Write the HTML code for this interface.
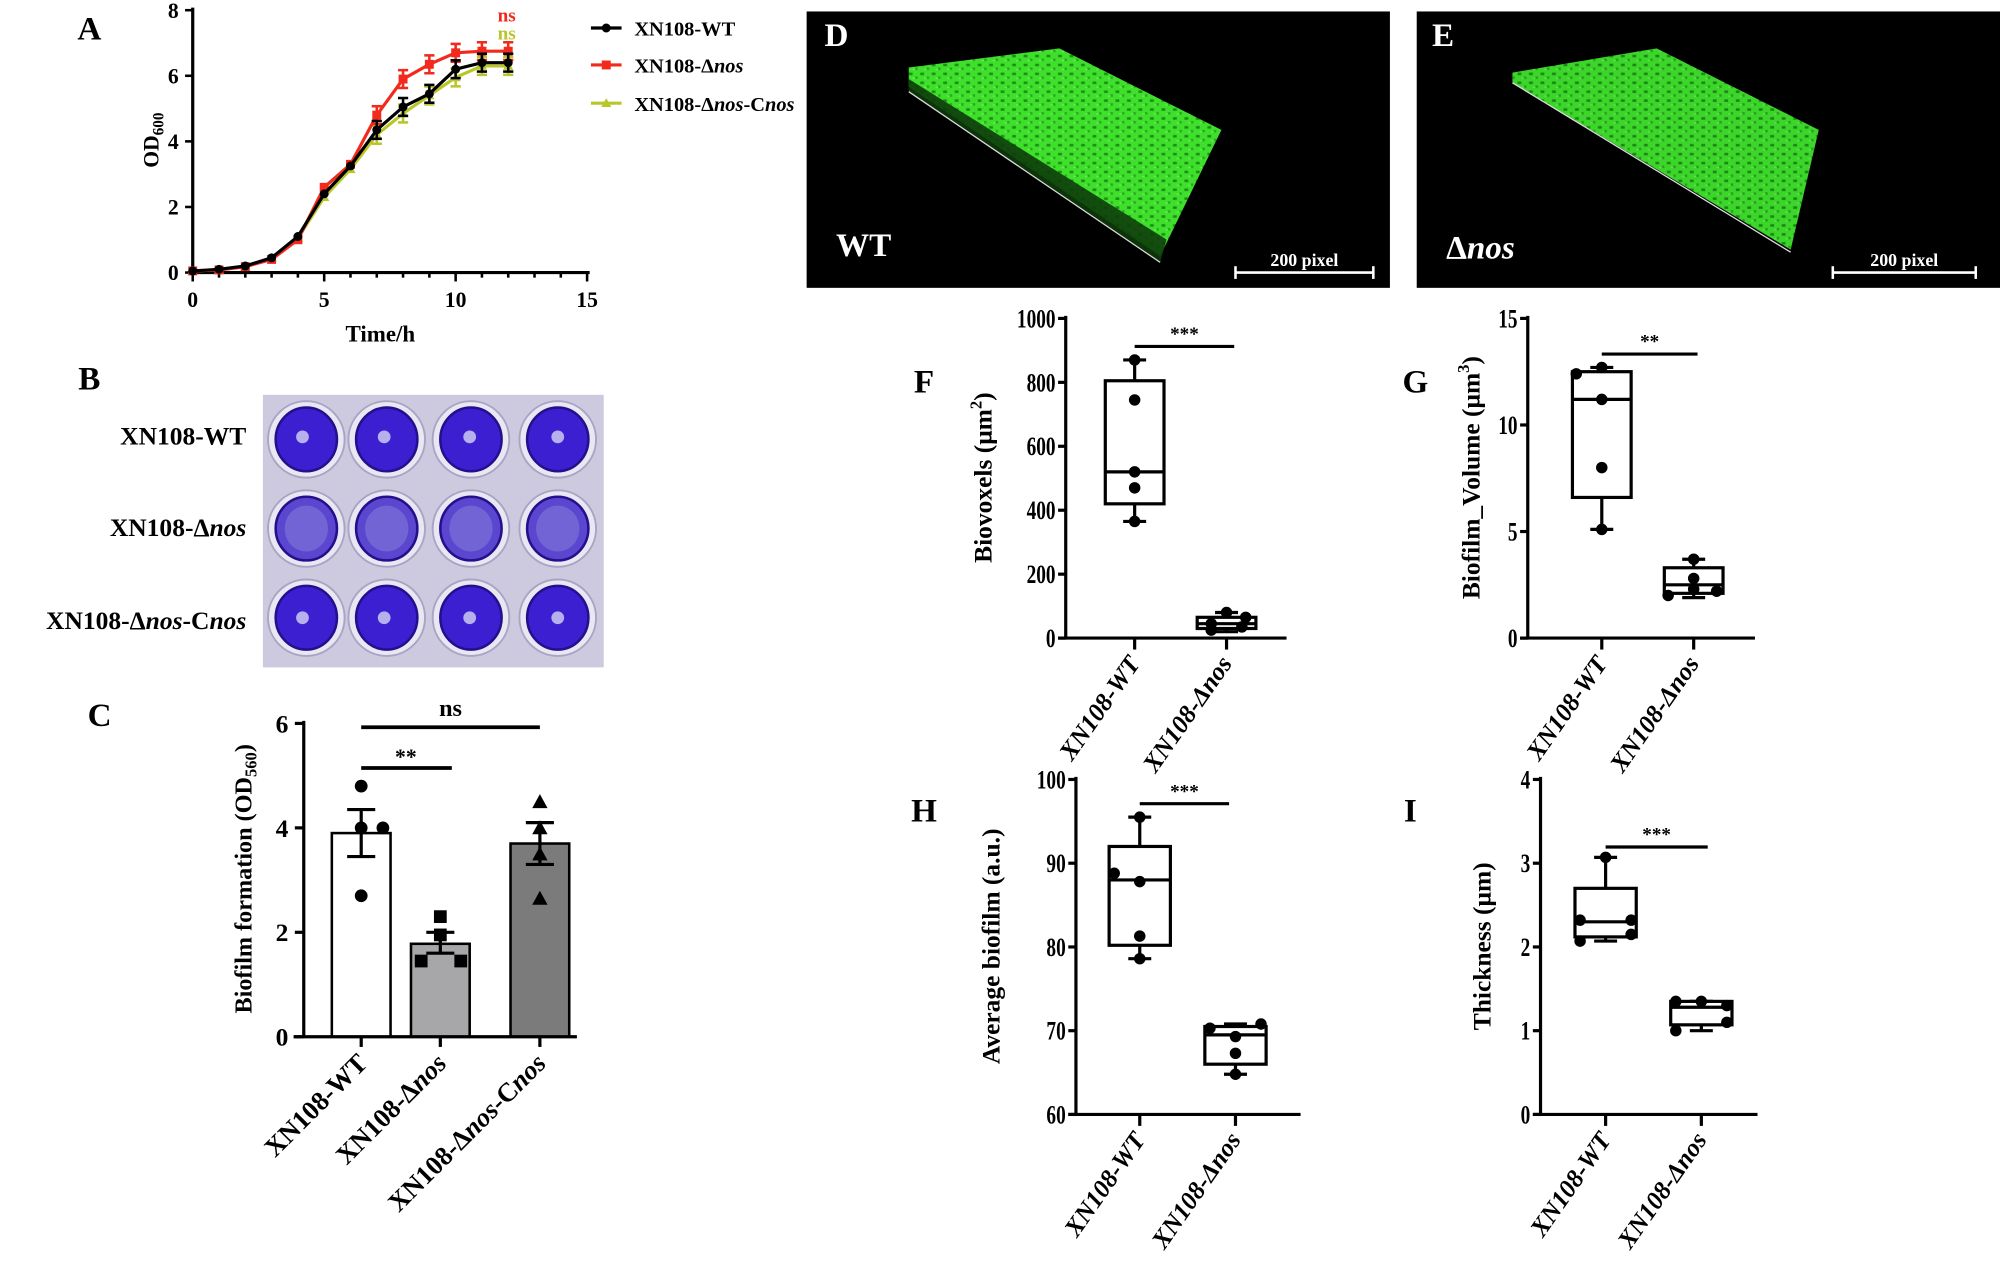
<!DOCTYPE html>
<html><head><meta charset="utf-8"><style>
html,body{margin:0;padding:0;background:#fff;}
svg{display:block;}
text{font-family:"Liberation Serif",serif;font-weight:bold;}
</style></head><body>
<svg id="s" width="2000" height="1266" viewBox="0 0 1567 994" preserveAspectRatio="none" xmlns="http://www.w3.org/2000/svg">
<defs>
<pattern id="gp" width="9" height="7" patternUnits="userSpaceOnUse">
<rect width="9" height="7" fill="#3fe02c"/>
<rect x="1" y="1" width="3" height="2" fill="#1f8c18"/>
<rect x="6" y="4" width="2" height="2" fill="#2aa81f"/>
<rect x="4" y="5" width="2" height="1" fill="#67f050"/>
</pattern>
<linearGradient id="sd" x1="0" y1="0" x2="1" y2="-1">
<stop offset="0" stop-color="#0d3a0a"/><stop offset="1" stop-color="#2a9a1e"/>
</linearGradient>
</defs>
<g id="root"></g>
</svg>
<script>
const R=document.getElementById('root');
let h='';
function t(x,y,s,size,opt){opt=opt||{};h+=`<text x="${x}" y="${y}" font-size="${size}" ${opt.a?`text-anchor="${opt.a}"`:''} ${opt.tr?`transform="${opt.tr}"`:''} fill="${opt.f||'#000'}" ${opt.it?'font-style="italic"':''}>${s}</text>`;}
function l(x1,y1,x2,y2,w,c){h+=`<line x1="${x1}" y1="${y1}" x2="${x2}" y2="${y2}" stroke="${c||'#000'}" stroke-width="${w||2}"/>`;}
// ---------- Panel A ----------
t(70,31,'A',26,{a:'middle'});
const AX=t0=>151+t0*20.6, AY=v=>214-v*25.75;
l(151,6,151,216,2.5);l(149,214,462,214,2.5);
[0,2,4,6,8].forEach(v=>{l(145,AY(v),151,AY(v),2);t(140,AY(v)+6,v,17,{a:'end'});});
for(let i=0;i<=15;i++){l(AX(i),214,AX(i),i%5?218:221,2);}
[0,5,10,15].forEach(v=>t(AX(v),241,v,17,{a:'middle'}));
t(298,268,'Time/h',18,{a:'middle'});
t(124,110,'OD<tspan font-size="12" dy="4">600</tspan>',17,{a:'middle',tr:'rotate(-90 124 110)'});
const wt=[0.05,0.1,0.2,0.45,1.1,2.4,3.25,4.35,5.05,5.45,6.2,6.4,6.4];
const ns=[0.05,0.08,0.18,0.4,1.0,2.6,3.3,4.8,5.9,6.35,6.7,6.75,6.75];
const cn=[0.05,0.08,0.18,0.45,1.05,2.3,3.15,4.2,4.85,5.4,5.95,6.3,6.3];
function series(d,c,mk){let p=d.map((v,i)=>AX(i)+','+AY(v)).join(' ');h+=`<polyline points="${p}" fill="none" stroke="${c}" stroke-width="2.5"/>`;
d.forEach((v,i)=>{const x=AX(i),y=AY(v);if(i>=7){l(x,y-7,x,y+7,2,c);l(x-4,y-7,x+4,y-7,2,c);l(x-4,y+7,x+4,y+7,2,c);}
if(mk==0)h+=`<circle cx="${x}" cy="${y}" r="3.5" fill="${c}"/>`;else if(mk==1)h+=`<rect x="${x-3.5}" y="${y-3.5}" width="7" height="7" fill="${c}"/>`;else h+=`<polygon points="${x},${y-4} ${x-4},${y+3} ${x+4},${y+3}" fill="${c}"/>`;});}
series(cn,'#b9c62a',2);series(ns,'#f22a1e',1);series(wt,'#000',0);
t(397,17,'ns',15,{a:'middle',f:'#f22a1e'});t(397,31,'ns',15,{a:'middle',f:'#b9c62a'});
const lg=[['XN108-WT','#000',0],['XN108-Δ<tspan font-style="italic">nos</tspan>','#f22a1e',1],['XN108-Δ<tspan font-style="italic">nos</tspan>-C<tspan font-style="italic">nos</tspan>','#b9c62a',2]];
lg.forEach((g,i)=>{const y=[22,51,81][i];l(463,y,487,y,2.5,g[1]);const x=475;
if(g[2]==0)h+=`<circle cx="${x}" cy="${y}" r="3.5" fill="${g[1]}"/>`;else if(g[2]==1)h+=`<rect x="${x-3.5}" y="${y-3.5}" width="7" height="7" fill="${g[1]}"/>`;else h+=`<polygon points="${x},${y-4} ${x-4},${y+3} ${x+4},${y+3}" fill="${g[1]}"/>`;
t(497,y+6,g[0],16);});
// ---------- Panel B ----------
t(70,306,'B',26,{a:'middle'});
t(193,349,'XN108-WT',20,{a:'end'});
t(193,421,'XN108-Δ<tspan font-style="italic">nos</tspan>',20,{a:'end'});
t(193,494,'XN108-Δ<tspan font-style="italic">nos</tspan>-C<tspan font-style="italic">nos</tspan>',20,{a:'end'});
h+=`<rect x="206" y="310" width="267" height="214" fill="#cdc9df"/>`;
[240,303,369,437].forEach((cx,ci)=>[345,415,485].forEach((cy,ri)=>{
h+=`<ellipse cx="${cx}" cy="${cy}" rx="30" ry="30" fill="#e9e7f2" stroke="#aaa4c4" stroke-width="1.5"/>`;
const f=ri==1?'#5a46cf':'#3d1fd2';
h+=`<ellipse cx="${cx}" cy="${cy}" rx="24" ry="25" fill="${f}" stroke="#24108c" stroke-width="2"/>`;
if(ri==1)h+=`<ellipse cx="${cx}" cy="${cy}" rx="17" ry="18" fill="#7d70d8" opacity="0.7"/>`;
else h+=`<ellipse cx="${cx-3+ci}" cy="${cy+(ri==0?-2:0)}" rx="5" ry="5" fill="#b7b0ee"/>`;
}));
// ---------- Panel C ----------
t(78,570,'C',26,{a:'middle'});
const CY=v=>814-v*41;
h+=`<rect x="260" y="${CY(3.9)}" width="46" height="${814-CY(3.9)}" fill="#fff" stroke="#000" stroke-width="2"/>`;
h+=`<rect x="322" y="${CY(1.78)}" width="46" height="${814-CY(1.78)}" fill="#a7a7a9" stroke="#000" stroke-width="2"/>`;
h+=`<rect x="400" y="${CY(3.7)}" width="46" height="${814-CY(3.7)}" fill="#7b7b7b" stroke="#000" stroke-width="2"/>`;
l(238,566,238,815,2.5);l(230,814,452,814,2.5);
[0,2,4,6].forEach(v=>{l(231,CY(v),238,CY(v),2.5);t(226,CY(v)+7,v,20,{a:'end'});});
[283,345,423].forEach(x=>l(x,814,x,822,2.5));
function eb(x,a,b){l(x,CY(a),x,CY(b),2.5);l(x-11,CY(a),x+11,CY(a),2.5);l(x-11,CY(b),x+11,CY(b),2.5);}
eb(283,3.45,4.35);eb(345,1.6,2.0);eb(423,3.3,4.1);
[[283,4.8],[283,4.0],[300,4.0],[283,2.7]].forEach(p=>h+=`<circle cx="${p[0]}" cy="${CY(p[1])}" r="5" fill="#000"/>`);
[[345,2.3],[345,1.95],[330,1.45],[361,1.45]].forEach(p=>h+=`<rect x="${p[0]-5}" y="${CY(p[1])-5}" width="10" height="10" fill="#000"/>`);
[[423,4.5],[423,4.0],[423,3.5],[423,2.65]].forEach(p=>{const y=CY(p[1]);h+=`<polygon points="${p[0]},${y-6} ${p[0]-6},${y+5} ${p[0]+6},${y+5}" fill="#000"/>`;});
l(283,571,423,571,3);t(353,562,'ns',19,{a:'middle'});
l(283,603,354,603,3);t(318,600,'**',17,{a:'middle'});
t(197,690,'Biofilm formation  (OD<tspan font-size="13" dy="4">560</tspan><tspan dy="-4">)</tspan>',19,{a:'middle',tr:'rotate(-90 197 690)'});
[[283,'XN108-WT'],[345,'XN108-Δ<tspan font-style="italic">nos</tspan>'],[423,'XN108-Δ<tspan font-style="italic">nos</tspan>-C<tspan font-style="italic">nos</tspan>']].forEach(p=>{t(p[0]+6,836,p[1],21,{a:'end',tr:`rotate(-45 ${p[0]+6} 836)`});});
// ---------- Panels D, E ----------
h+=`<rect x="632" y="9" width="457" height="217" fill="#000"/>`;
h+=`<rect x="1110" y="9" width="457" height="217" fill="#000"/>`;
h+=`<polygon points="712,53 830,38 957,102 909,201 712,68" fill="url(#gp)"/>`;
h+=`<polygon points="712,62 712,72 909,206 914,188 " fill="url(#sd)" opacity="0.9"/>`;
l(712,72,909,206,1,'#ddd');
h+=`<polygon points="1185,57 1298,38 1425,102 1403,196 1185,65" fill="url(#gp)" opacity="0.95"/>`;
l(1185,65,1403,198,1,'#ddd');
t(646,36,'D',26,{f:'#fff'});t(1122,36,'E',26,{f:'#fff'});
t(655,201,'WT',26,{f:'#fff'});t(1133,203,'Δ<tspan font-style="italic">nos</tspan>',26,{f:'#fff'});
t(1022,209,'200 pixel',14,{a:'middle',f:'#fff'});l(968,214,1076,214,2,'#fff');l(968,209,968,219,2,'#fff');l(1076,209,1076,219,2,'#fff');
t(1492,209,'200 pixel',14,{a:'middle',f:'#fff'});l(1436,214,1548,214,2,'#fff');l(1436,209,1436,219,2,'#fff');l(1548,209,1548,219,2,'#fff');
// ---------- Box panels ----------
function panel(o){
const Y=v=>o.y0-(v-o.min)/(o.max-o.min)*(o.y0-o.y1);
l(o.ax,o.y1-2,o.ax,o.y0+1,2.5);l(o.ax-6,o.y0,o.xend,o.y0,2.5);
o.ticks.forEach(v=>{l(o.ax-6,Y(v),o.ax,Y(v),2.5);t(o.ax-8,Y(v)+7,v,21,{a:'end',tr:`translate(${o.ax-8} ${Y(v)}) scale(0.72 1) translate(${-(o.ax-8)} ${-Y(v)})`});});
o.boxes.forEach(b=>{l(b.x,o.y0,b.x,o.y0+9,2.5);
const x0=b.x-b.w/2;l(b.x,Y(b.wl),b.x,Y(b.q1),2.5);l(b.x,Y(b.q3),b.x,Y(b.wh),2.5);
l(b.x-9,Y(b.wl),b.x+9,Y(b.wl),2.5);l(b.x-9,Y(b.wh),b.x+9,Y(b.wh),2.5);
h+=`<rect x="${x0}" y="${Y(b.q3)}" width="${b.w}" height="${Y(b.q1)-Y(b.q3)}" fill="#fff" stroke="#000" stroke-width="2.5"/>`;
l(x0,Y(b.md),x0+b.w,Y(b.md),2.5);
b.pts.forEach(p=>h+=`<circle cx="${b.x+p[1]}" cy="${Y(p[0])}" r="4.5" fill="#000"/>`);
const lx=b.x+5,ly=o.y0+20;t(lx,ly,b.lab,20,{a:'end',it:1,tr:`rotate(-55 ${lx} ${ly})`});});
l(o.boxes[0].x,o.sy,o.sx2,o.sy,2.5);t((o.boxes[0].x+o.sx2)/2,o.sy-5,o.star,15,{a:'middle'});
t(o.lx,o.ly,o.ylab,20,{a:'middle',tr:`rotate(-90 ${o.lx} ${o.ly})`});
t(o.px,o.py,o.pl,26,{a:'middle'});
}
const L1='XN108-WT',L2='XN108-Δnos';
panel({ax:835,y0:501,y1:250,min:0,max:1000,xend:1008,ticks:[0,200,400,600,800,1000],sy:272,sx2:967,star:'***',lx:777,ly:375,ylab:'Biovoxels (μm<tspan font-size="13" dy="-8">2</tspan><tspan dy="8">)</tspan>',px:724,py:308,pl:'F',
boxes:[{x:889,w:46,q1:420,md:520,q3:805,wl:365,wh:870,pts:[[870,0],[745,0],[520,0],[470,0],[365,0]],lab:L1},
{x:961,w:46,q1:30,md:45,q3:65,wl:20,wh:80,pts:[[80,0],[65,15],[45,-12],[35,12],[25,-12]],lab:L2}]});
panel({ax:1197,y0:501,y1:250,min:0,max:15,xend:1375,ticks:[0,5,10,15],sy:278,sx2:1330,star:'**',lx:1159,ly:375,ylab:'Biofilm_Volume (μm<tspan font-size="13" dy="-8">3</tspan><tspan dy="8">)</tspan>',px:1109,py:308,pl:'G',
boxes:[{x:1255,w:46,q1:6.6,md:11.2,q3:12.5,wl:5.1,wh:12.7,pts:[[12.7,0],[12.4,-20],[11.2,0],[8.0,0],[5.1,0]],lab:L1},
{x:1327,w:46,q1:2.1,md:2.5,q3:3.3,wl:1.9,wh:3.7,pts:[[3.7,0],[2.8,0],[2.3,0],[2.0,-20],[2.2,18]],lab:L2}]});
panel({ax:843,y0:875,y1:612,min:60,max:100,xend:1019,ticks:[60,70,80,90,100],sy:631,sx2:963,star:'***',lx:783,ly:743,ylab:'Average biofilm (a.u.)',px:724,py:645,pl:'H',
boxes:[{x:893,w:48,q1:80.2,md:88,q3:92,wl:78.6,wh:95.5,pts:[[95.5,0],[88.8,-20],[87.8,0],[81.3,0],[78.6,0]],lab:L1},
{x:968,w:48,q1:66,md:69.5,q3:70.5,wl:64.8,wh:70.8,pts:[[70.8,20],[70.3,-20],[69.3,0],[67.3,0],[64.8,0]],lab:L2}]});
panel({ax:1207,y0:875,y1:612,min:0,max:4,xend:1377,ticks:[0,1,2,3,4],sy:665,sx2:1338,star:'***',lx:1168,ly:743,ylab:'Thickness (μm)',px:1105,py:645,pl:'I',
boxes:[{x:1258,w:48,q1:2.12,md:2.3,q3:2.7,wl:2.07,wh:3.07,pts:[[3.07,0],[2.32,-20],[2.32,20],[2.15,20],[2.07,-20]],lab:L1},
{x:1333,w:48,q1:1.07,md:1.28,q3:1.35,wl:1.0,wh:1.35,pts:[[1.35,-20],[1.35,0],[1.3,20],[1.1,20],[1.0,-20]],lab:L2}]});
R.innerHTML=h;
</script>
</body></html>
